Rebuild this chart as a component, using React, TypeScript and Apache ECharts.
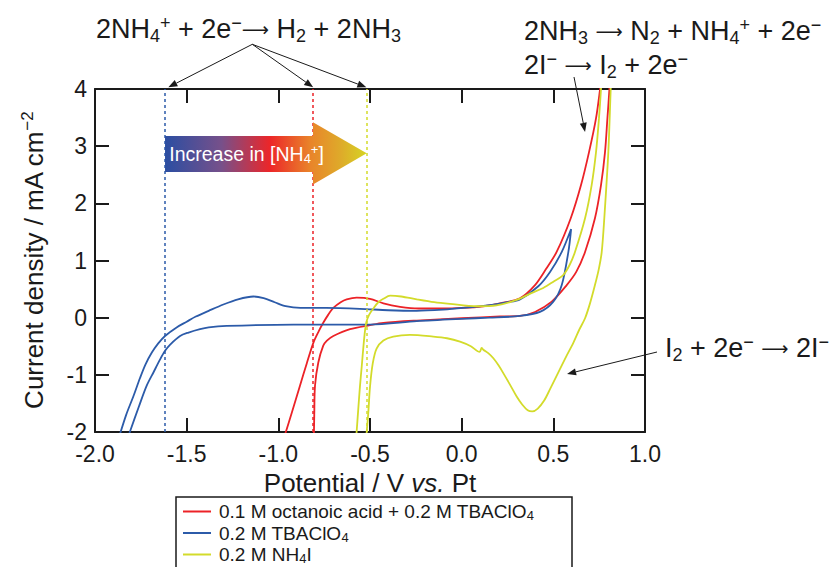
import React, { useEffect, useRef } from 'react';
import * as echarts from 'echarts';

const FONT = '"Liberation Sans", Helvetica, Arial, sans-serif';
const ARROW_FONT = '"DejaVu Sans", sans-serif';
const INK = '#1a1a1a';

// ---- data ----
const seriesNames = ['0.1 M octanoic acid + 0.2 M TBAClO4', '0.2 M TBAClO4', '0.2 M NH4I'];
const legendLabels = ['0.1 M octanoic acid + 0.2 M TBAClO{sub|4}', '0.2 M TBAClO{sub|4}', '0.2 M NH{sub|4}I'];
const seriesColors = ['#ec2227', '#2c5ba9', '#d3db2b'];

const xTicks = { min: -2, max: 1, interval: 0.5 };
const yTicks = { min: -2, max: 4, interval: 1 };

// onset potentials of NH4+ reduction (dotted verticals), in series order
const onsetPotentials = [-0.81, -1.62, -0.522];

const octanoicCV: [number, number][] = [
  [-0.965, -2.06], [-0.93, -1.7], [-0.882, -1.19], [-0.845, -0.8], [-0.809, -0.44],
  [-0.78, -0.24], [-0.755, -0.09], [-0.73, 0.04], [-0.7, 0.17], [-0.66, 0.27],
  [-0.627, 0.32], [-0.573, 0.35], [-0.5, 0.33], [-0.427, 0.25], [-0.336, 0.19],
  [-0.236, 0.16], [-0.1, 0.16], [0.0, 0.17], [0.118, 0.2], [0.209, 0.25],
  [0.318, 0.34], [0.4, 0.57], [0.46, 0.85], [0.518, 1.15], [0.595, 1.74],
  [0.651, 2.32], [0.695, 2.9], [0.733, 3.49], [0.755, 4.0], [0.762, 4.2],
  [0.808, 4.2], [0.806, 4.0], [0.795, 3.49], [0.782, 2.9], [0.76, 2.32],
  [0.727, 1.74], [0.673, 1.15], [0.625, 0.8], [0.573, 0.57], [0.491, 0.28],
  [0.4, 0.1], [0.318, 0.03], [0.209, 0.02], [0.0, -0.01], [-0.245, -0.05],
  [-0.427, -0.09], [-0.5, -0.13], [-0.609, -0.2], [-0.7, -0.32], [-0.735, -0.4],
  [-0.755, -0.49], [-0.782, -0.785], [-0.8, -1.19], [-0.804, -1.7], [-0.806, -2.06],
];

const tbaCV: [number, number][] = [
  [-1.866, -2.06], [-1.83, -1.7], [-1.79, -1.37], [-1.755, -1.06], [-1.725, -0.82],
  [-1.69, -0.61], [-1.655, -0.45], [-1.618, -0.32], [-1.555, -0.17], [-1.5, -0.07], [-1.45, 0.02],
  [-1.38, 0.12], [-1.3, 0.23], [-1.22, 0.32], [-1.136, 0.37], [-1.08, 0.34],
  [-1.02, 0.27], [-0.96, 0.2], [-0.88, 0.17], [-0.74, 0.17], [-0.555, 0.155],
  [-0.4, 0.13], [-0.245, 0.12], [-0.1, 0.14], [0.01, 0.17], [0.155, 0.22],
  [0.25, 0.27], [0.318, 0.32], [0.418, 0.55], [0.482, 0.8], [0.546, 1.15],
  [0.597, 1.55], [0.582, 1.15], [0.546, 0.57], [0.5, 0.28], [0.427, 0.1],
  [0.318, 0.03], [0.15, 0.0], [0.0, -0.02], [-0.245, -0.06], [-0.5, -0.12],
  [-0.918, -0.12], [-1.282, -0.145], [-1.38, -0.17], [-1.427, -0.2], [-1.49, -0.26],
  [-1.536, -0.32], [-1.59, -0.47], [-1.618, -0.58], [-1.645, -0.73], [-1.68, -0.95],
  [-1.718, -1.19], [-1.76, -1.55], [-1.81, -2.0], [-1.815, -2.06],
];

const nh4iCV: [number, number][] = [
  [0.816, 4.2], [0.813, 4.0], [0.8, 2.9], [0.778, 1.74], [0.764, 1.15],
  [0.748, 0.85], [0.727, 0.57], [0.7, 0.25], [0.673, -0.01], [0.64, -0.22],
  [0.609, -0.44], [0.57, -0.68], [0.536, -0.9], [0.482, -1.25], [0.45, -1.45],
  [0.415, -1.59], [0.385, -1.64], [0.36, -1.62], [0.33, -1.52], [0.3, -1.38],
  [0.265, -1.18], [0.227, -0.97], [0.2, -0.83], [0.173, -0.71], [0.145, -0.62],
  [0.118, -0.56], [0.109, -0.53], [0.098, -0.6], [0.05, -0.5], [-0.009, -0.42],
  [-0.08, -0.36], [-0.155, -0.33], [-0.282, -0.3], [-0.373, -0.33], [-0.427, -0.4],
  [-0.464, -0.54], [-0.485, -0.8], [-0.5, -1.21], [-0.509, -1.65], [-0.518, -2.0],
  [-0.52, -2.1], [-0.575, -2.1], [-0.573, -2.0], [-0.564, -1.6], [-0.555, -1.21],
  [-0.545, -0.85], [-0.536, -0.51], [-0.528, -0.25], [-0.52, -0.08], [-0.505, 0.05],
  [-0.482, 0.16], [-0.455, 0.27], [-0.427, 0.33], [-0.39, 0.385], [-0.33, 0.37],
  [-0.245, 0.32], [-0.15, 0.27], [-0.064, 0.24], [0.082, 0.2], [0.19, 0.215],
  [0.3, 0.31], [0.38, 0.43], [0.445, 0.52], [0.5, 0.63], [0.555, 0.75],
  [0.59, 0.93], [0.618, 1.15], [0.673, 1.74], [0.709, 2.32], [0.733, 2.9],
  [0.749, 3.49], [0.76, 4.0], [0.763, 4.2],
];

const seriesData = [octanoicCV, tbaCV, nh4iCV];

// ---- annotations (data coordinates) ----
const increaseArrow: [number, number][] = [
  [-1.618, 3.18], [-0.811, 3.18], [-0.811, 3.42], [-0.518, 2.875],
  [-0.811, 2.33], [-0.811, 2.55], [-1.618, 2.55],
];
const increaseLabelAt: [number, number] = [-1.595, 2.87];
const topArrowTargets: [number, number][] = [[-1.6, 4.03], [-0.81, 4.03], [-0.52, 4.03]];
const anodicArrowTarget: [number, number] = [0.673, 3.25];
const cathodicArrowTarget: [number, number] = [0.575, -0.985];

const reductionText = '2NH{sub|4}{sup|+} + 2e{sup|−}{arr|⟶} H{sub|2} + 2NH{sub|3}';
const oxidationText1 = '2NH{sub|3} {arr|⟶} N{sub|2} + NH{sub|4}{sup|+} + 2e{sup|−}';
const oxidationText2 = '2I{sup|−} {arr|⟶} I{sub|2} + 2e{sup|−}';
const iodineText = 'I{sub|2} + 2e{sup|−} {arr|⟶} 2I{sup|−}';
const increaseText = 'Increase in [NH{sub|4}{sup|+}]';

function richFor(size: number, color: string) {
  const s = Math.round(size * 0.65);
  return {
    sub: { fontSize: s, lineHeight: Math.round(s * 0.8), verticalAlign: 'bottom', fontFamily: FONT, fill: color, color },
    sup: { fontSize: s, lineHeight: Math.round(s * 1.4), verticalAlign: 'top', fontFamily: FONT, fill: color, color },
    arr: { fontSize: Math.round(size * 0.72), fontFamily: ARROW_FONT, fill: color, color },
  };
}

function arrow(x1: number, y1: number, x2: number, y2: number, headLen = 9, headW = 3.5) {
  const dx = x2 - x1, dy = y2 - y1;
  const L = Math.hypot(dx, dy);
  const ux = dx / L, uy = dy / L;
  const bx = x2 - ux * headLen, by = y2 - uy * headLen;
  return [
    { type: 'line', z: 100, shape: { x1, y1, x2: bx, y2: by }, style: { stroke: INK, lineWidth: 1 } },
    {
      type: 'polygon', z: 100,
      shape: { points: [[x2, y2], [bx - uy * headW, by + ux * headW], [bx + uy * headW, by - ux * headW]] },
      style: { fill: INK },
    },
  ];
}

function eqText(x: number, y: number, text: string, size = 27) {
  return {
    type: 'text', x, y, z: 100,
    style: {
      text, fontSize: size, fontFamily: FONT, fill: INK, align: 'left', verticalAlign: 'middle',
      lineHeight: Math.round(size * 1.15), rich: richFor(size, INK),
    },
  };
}

export default function App() {
  const ref = useRef<HTMLDivElement>(null);
  useEffect(() => {
    if (!ref.current) return;
    const chart = echarts.init(ref.current, null, { renderer: 'svg' });
    const axisLine = { show: true, onZero: false, lineStyle: { color: INK, width: 2 } };
    const axisTick = { show: true, inside: true, length: 14, lineStyle: { color: INK, width: 2 } };
    const option: any = {
      animation: false,
      backgroundColor: '#ffffff',
      grid: { left: 95, right: 189, top: 89, bottom: 135, containLabel: false },
      xAxis: [
        {
          type: 'value', ...xTicks, position: 'bottom', axisLine, axisTick,
          splitLine: { show: false },
          axisLabel: { fontSize: 23, fontFamily: FONT, color: INK, margin: 10, formatter: (v: number) => v.toFixed(1) },
          name: 'Potential / V {i|vs.} Pt', nameLocation: 'middle', nameGap: 31,
          nameTextStyle: {
            fontSize: 26, fontFamily: FONT, color: INK,
            rich: { i: { fontSize: 26, fontFamily: FONT, fontStyle: 'italic', color: INK } },
          },
        },
        {
          type: 'value', ...xTicks, position: 'top', axisLine, axisTick,
          splitLine: { show: false }, axisLabel: { show: false },
        },
      ],
      yAxis: [
        {
          type: 'value', ...yTicks, position: 'left', axisLine, axisTick,
          splitLine: { show: false },
          axisLabel: { fontSize: 23, fontFamily: FONT, color: INK, margin: 8 },
          name: 'Current density / mA cm{sup|−2}', nameLocation: 'middle', nameGap: 46,
          nameTextStyle: {
            fontSize: 26, fontFamily: FONT, color: INK, lineHeight: 30,
            rich: { sup: { fontSize: 17, lineHeight: 14, verticalAlign: 'top', fontFamily: FONT, color: INK } },
          },
        },
        {
          type: 'value', ...yTicks, position: 'right', axisLine, axisTick,
          splitLine: { show: false }, axisLabel: { show: false },
        },
      ],
      legend: {
        orient: 'vertical', left: 183, top: 501, padding: 0, itemGap: 0.5,
        itemWidth: 28, itemHeight: 2, icon: 'rect',
        data: seriesNames,
        formatter: (name: string) => legendLabels[seriesNames.indexOf(name)],
        textStyle: {
          fontSize: 19, fontFamily: FONT, color: INK, lineHeight: 21, padding: [0, 0, 0, 3],
          rich: {
            sub: { fontSize: 13, lineHeight: 10, verticalAlign: 'bottom', fontFamily: FONT, color: INK },
          },
        },
      },
      series: seriesData.map((d, i) => ({
        name: seriesNames[i],
        type: 'line',
        data: d,
        color: seriesColors[i],
        showSymbol: false,
        symbol: 'none',
        smooth: 0.3,
        clip: true,
        lineStyle: { width: 1.8, color: seriesColors[i] },
        markLine: {
          silent: true, symbol: ['none', 'none'], label: { show: false },
          lineStyle: { color: seriesColors[i], type: [3, 3], width: 1.5 },
          data: [{ xAxis: onsetPotentials[i] }],
        },
      })),
    };
    chart.setOption(option);

    const px = (p: [number, number]) => chart.convertToPixel({ xAxisIndex: 0, yAxisIndex: 0 }, p) as number[];
    const arrowPts = increaseArrow.map((p) => px(p));
    const lab = px(increaseLabelAt);
    const graphics: any[] = [
      {
        type: 'polygon', z: 100,
        shape: { points: arrowPts },
        style: {
          fill: {
            type: 'linear', x: 0, y: 0, x2: 1, y2: 0, global: false,
            colorStops: [
              { offset: 0, color: '#2b4ea2' },
              { offset: 0.28, color: '#77508a' },
              { offset: 0.52, color: '#ec2629' },
              { offset: 0.72, color: '#e9842a' },
              { offset: 0.87, color: '#deaa2a' },
              { offset: 1, color: '#d6d424' },
            ],
          },
        },
      },
      {
        type: 'text', z: 101, x: lab[0], y: lab[1],
        style: {
          text: increaseText, fontSize: 19.5, fontFamily: FONT, fill: '#ffffff',
          align: 'left', verticalAlign: 'middle', lineHeight: 22, rich: richFor(19.5, '#ffffff'),
        },
      },
      eqText(96, 29, reductionText),
      eqText(524, 31, oxidationText1),
      eqText(524, 65, oxidationText2),
      eqText(665, 348, iodineText),
      {
        type: 'rect', z: 100,
        shape: { x: 176, y: 497, width: 396, height: 90 },
        style: { fill: 'none', stroke: INK, lineWidth: 1.5 },
      },
    ];
    topArrowTargets.forEach((t) => {
      const p = px(t);
      graphics.push(...arrow(252.3, 44.3, p[0], p[1]));
    });
    const a1 = px(anodicArrowTarget);
    graphics.push(...arrow(574, 77, a1[0], a1[1]));
    const a2 = px(cathodicArrowTarget);
    graphics.push(...arrow(657, 352, a2[0], a2[1]));
    chart.setOption({ graphic: graphics });

    return () => chart.dispose();
  }, []);
  return <div ref={ref} style={{ position: 'fixed', left: 0, top: 0, width: 834, height: 567 }} />;
}
